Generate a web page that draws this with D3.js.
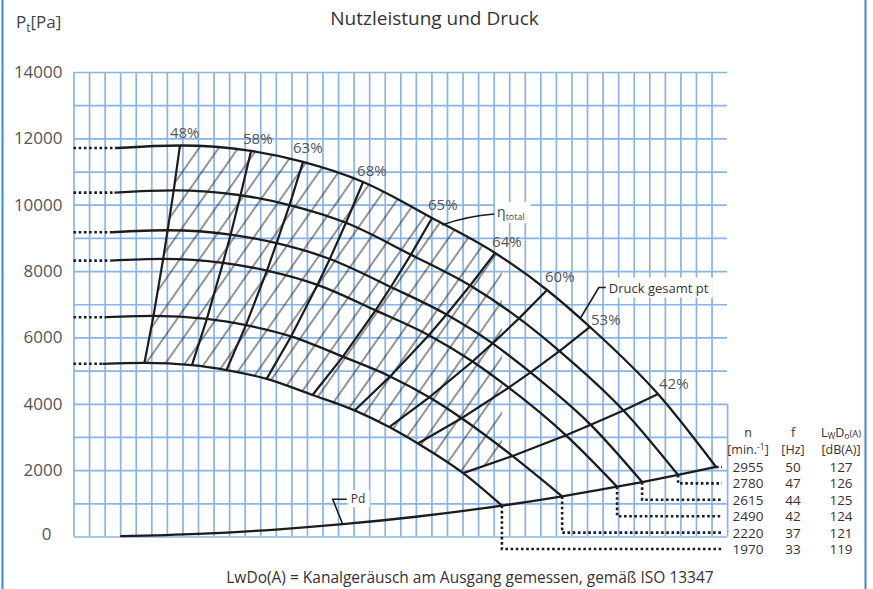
<!DOCTYPE html>
<html lang="de">
<head>
<meta charset="utf-8">
<title>Nutzleistung und Druck</title>
<script src="https://d3js.org/d3.v7.min.js"></script>
<style>
  body { margin: 0; background: #fff; }
  svg { display: block; font-family: "Open Sans", sans-serif; }
</style>
</head>
<body>
<svg id="chart" width="873" height="589"></svg>
<script>
// fan curves: [flow (grid units), total pressure Pa]
// points: start, 48%, 58%, 63%, 68%, 65%, 64%, 60%, 53%, 42%, end
var curve2955 = [[2.80,11710],[6.84,11785],[11.41,11620],[14.75,11290],[18.61,10685],[23.04,9600],[27.09,8545],[30.43,7430],[33.19,6315],[37.56,4295],[41.29,2095]];
var curve2780 = [[2.63,10365],[6.44,10430],[10.73,10285],[13.88,9990],[17.51,9455],[21.68,8495],[25.49,7565],[28.63,6575],[31.23,5590],[35.34,3800],[38.85,1855]];
var curve2615 = [[2.48,9170],[6.05,9230],[10.10,9100],[13.05,8840],[16.47,8365],[20.39,7520],[23.97,6690],[26.93,5820],[29.37,4945],[33.24,3365],[36.54,1640]];
var curve2490 = [[2.36,8315],[5.76,8365],[9.61,8250],[12.43,8015],[15.68,7585],[19.41,6815],[22.83,6065],[25.64,5275],[27.97,4485],[31.65,3050],[34.93,1500]];
var curve2220 = [[2.10,6610],[5.14,6650],[8.57,6560],[11.08,6370],[13.98,6030],[17.31,5420],[20.35,4825],[22.86,4195],[24.94,3565],[28.22,2425],[31.40,1210]];
var curve1970 = [[1.87,5205],[4.56,5235],[7.61,5165],[9.83,5015],[12.41,4750],[15.36,4265],[18.06,3800],[20.29,3300],[22.13,2805],[25.04,1910],[27.53,930]];

// dynamic pressure
var pdCurve = [[3,10],[8,80],[13,210],[17.3,370],[22,595],[27.53,930],[31.40,1210],[34.93,1500],[36.54,1640],[38.85,1855],[41.29,2095]];

var speeds = [2955, 2780, 2615, 2490, 2220, 1970];
var freqs = [50, 47, 44, 42, 37, 33];
var noise = [127, 126, 125, 124, 121, 119];
var effLabels = ["48%", "58%", "63%", "68%", "65%", "64%", "60%", "53%", "42%"];
var yTicks = [0, 2000, 4000, 6000, 8000, 10000, 12000, 14000];

var curves = [curve2955, curve2780, curve2615, curve2490, curve2220, curve1970];

var svg = d3.select("#chart");
var plotL = 73.5, plotR = 727.1, plotT = 72, plotB = 536.5;

var x = d3.scaleLinear().domain([0, 42]).range([plotL, plotR]);
var y = d3.scaleLinear().domain([0, 14000]).range([plotB, plotT]);

var ink = "#1c1c1c";
var gridBlue = "#88b4e7";

// frame
svg.append("line").attr("x1", 2.5).attr("x2", 2.5).attr("y1", 0).attr("y2", 589)
   .attr("stroke", "#3b87d8").attr("stroke-width", 2);
svg.append("line").attr("x1", 865.5).attr("x2", 865.5).attr("y1", 0).attr("y2", 589)
   .attr("stroke", "#3b87d8").attr("stroke-width", 2);

// grid, vertical
var gx = svg.append("g")
  .attr("transform", "translate(0," + plotB + ")")
  .call(d3.axisBottom(x).tickValues(d3.range(0, 43)).tickSize(-(plotB - plotT)).tickFormat(""));
gx.select(".domain").remove();
gx.selectAll("line").attr("stroke", gridBlue).attr("stroke-width", 1.7);
gx.selectAll(".tick").filter(function(d) { return d === 42; })
  .select("line").attr("y2", -(plotB - y(4000)));

// grid, horizontal
var gy = svg.append("g")
  .attr("transform", "translate(" + plotL + ",0)")
  .call(d3.axisLeft(y).tickValues(d3.range(0, 14001, 1000)).tickSize(-(plotR - plotL)).tickFormat(""));
gy.select(".domain").remove();
gy.selectAll("line").attr("stroke", gridBlue).attr("stroke-width", 1.7);

// y labels
var yl = svg.append("g")
  .attr("transform", "translate(" + plotL + ",0)")
  .call(d3.axisLeft(y).tickValues(yTicks).tickSize(0).tickPadding(11).tickFormat(d3.format("d")));
yl.select(".domain").remove();
yl.selectAll("text").attr("font-size", 17).attr("fill", "#555")
  .attr("font-family", "'Open Sans', sans-serif");
yl.selectAll(".tick").filter(function(d) { return d === 0; })
  .select("text").attr("x", -22).attr("dy", "0.2em");

// hatching
var defs = svg.append("defs");
defs.append("pattern").attr("id", "hatch")
  .attr("patternUnits", "userSpaceOnUse")
  .attr("width", 16).attr("height", 10)
  .attr("patternTransform", "rotate(35)")
  .append("line").attr("x1", 8).attr("x2", 8).attr("y1", -1).attr("y2", 11)
  .attr("stroke", "#2a2a2a").attr("stroke-width", 1);

var areaBelow = d3.area().x(function(d) { return x(d[0]); })
  .y0(y(-3000)).y1(function(d) { return y(d[1]); }).curve(d3.curveMonotoneX);
var areaAbove = d3.area().x(function(d) { return x(d[0]); })
  .y0(y(17000)).y1(function(d) { return y(d[1]); }).curve(d3.curveMonotoneX);

defs.append("clipPath").attr("id", "clipTop").append("path").attr("d", areaBelow(curve2955));
defs.append("clipPath").attr("id", "clipBottom").append("path").attr("d", areaAbove(curve1970));

var leftEdge = curves.map(function(c) { return c[1]; });
var rightEdge = curves.map(function(c) { return c[9]; });
var sidePoly = [[leftEdge[0][0], 17000]].concat(leftEdge)
  .concat([[leftEdge[5][0], -3000], [rightEdge[5][0], -3000]])
  .concat(rightEdge.slice().reverse())
  .concat([[rightEdge[0][0], 17000]]);
defs.append("clipPath").attr("id", "clipSide").append("polygon")
  .attr("points", sidePoly.map(function(d) { return x(d[0]) + "," + y(d[1]); }).join(" "));

svg.append("g").attr("clip-path", "url(#clipTop)")
  .append("g").attr("clip-path", "url(#clipBottom)")
  .append("g").attr("clip-path", "url(#clipSide)")
  .append("rect").attr("x", plotL).attr("y", plotT).attr("width", plotR - plotL).attr("height", plotB - plotT)
  .attr("fill", "url(#hatch)");

var lineGen = d3.line().x(function(d) { return x(d[0]); }).y(function(d) { return y(d[1]); })
  .curve(d3.curveMonotoneX);
var straight = d3.line().x(function(d) { return x(d[0]); }).y(function(d) { return y(d[1]); });

// dotted extensions to the left
svg.append("g").selectAll("path").data(curves).enter().append("path")
  .attr("d", function(c) { return straight([[0, c[0][1]], c[0]]); })
  .attr("fill", "none").attr("stroke", ink).attr("stroke-width", 2.6)
  .attr("stroke-dasharray", "2.6,2.6");

// dotted connectors to the table
var rowY = function(i) { return 467 + i * 16.4; };
svg.append("g").selectAll("path").data(curves).enter().append("path")
  .attr("d", function(c, i) {
    var e = c[c.length - 1];
    return "M" + x(e[0]) + "," + y(e[1]) + "V" + rowY(i) + "H722";
  })
  .attr("fill", "none").attr("stroke", ink).attr("stroke-width", 2.6)
  .attr("stroke-dasharray", "2.6,2.6");

// speed curves
svg.append("g").selectAll("path").data(curves).enter().append("path")
  .attr("d", lineGen)
  .attr("fill", "none").attr("stroke", ink).attr("stroke-width", 2.3);

// efficiency lines
var effLines = d3.range(1, 10).map(function(i) { return curves.map(function(c) { return c[i]; }); });
svg.append("g").selectAll("path").data(effLines).enter().append("path")
  .attr("d", straight)
  .attr("fill", "none").attr("stroke", ink).attr("stroke-width", 2.2);

// Pd curve
svg.append("path").attr("d", lineGen(pdCurve))
  .attr("fill", "none").attr("stroke", ink).attr("stroke-width", 2.3);

// efficiency labels
var effDx = [-10, -8, -10, -6, -4, -3, -2, 1, 1];
var effDy = [-12.5, -12, -14, -11, -13, -11, -13, -7, -10];
svg.append("g").selectAll("text").data(effLabels).enter().append("text")
  .attr("x", function(d, i) { return x(curve2955[i + 1][0]) + effDx[i]; })
  .attr("y", function(d, i) { return y(curve2955[i + 1][1]) + effDy[i] + 5; })
  .attr("font-size", 15).attr("fill", "#555")
  .text(function(d) { return d; });

// Pd label
var pdP = pdCurve[3];
var px0 = x(pdP[0]), py0 = y(pdP[1]);
svg.append("rect").attr("x", px0 + 5).attr("y", py0 - 34).attr("width", 22).attr("height", 17).attr("fill", "#fff");
svg.append("path").attr("d", "M" + px0 + "," + py0 + "L" + (px0 - 10) + "," + (py0 - 25) + "H" + (px0 + 4))
  .attr("fill", "none").attr("stroke", ink).attr("stroke-width", 1.6);
svg.append("text").attr("x", px0 + 8).attr("y", py0 - 21).attr("font-size", 12).attr("fill", "#333").text("Pd");

// Druck gesamt label
var dA = [32.6, 6600];
var dx0 = x(dA[0]), dy0 = y(dA[1]);
svg.append("rect").attr("x", dx0 + 24).attr("y", dy0 - 40).attr("width", 108).attr("height", 20).attr("fill", "#fff");
svg.append("path").attr("d", "M" + dx0 + "," + dy0 + "L" + (dx0 + 18) + "," + (dy0 - 30) + "H" + (dx0 + 25))
  .attr("fill", "none").attr("stroke", ink).attr("stroke-width", 1.6);
svg.append("text").attr("x", dx0 + 28).attr("y", dy0 - 25).attr("font-size", 13).attr("fill", "#333")
  .text("Druck gesamt pt");

// eta total label
var eA = curve2955[5];
var ex0 = x(eA[0]), ey0 = y(eA[1]);
svg.append("rect").attr("x", ex0 + 63).attr("y", ey0 - 16).attr("width", 36).attr("height", 21).attr("fill", "#fff");
svg.append("path").attr("d", "M" + (ex0 + 10) + "," + (ey0 + 7) + "Q" + (ex0 + 35) + "," + (ey0 - 2) + " " + (ex0 + 62) + "," + (ey0 - 4))
  .attr("fill", "none").attr("stroke", ink).attr("stroke-width", 1.6);
var et = svg.append("text").attr("x", ex0 + 65).attr("y", ey0 - 1).attr("font-size", 14).attr("fill", "#444");
et.append("tspan").text("η");
et.append("tspan").attr("font-size", 9).attr("dy", 3).text("total");

// title and axis name
svg.append("text").attr("x", 434.5).attr("y", 25).attr("text-anchor", "middle")
  .attr("font-size", 19).attr("fill", "#333").text("Nutzleistung und Druck");
var at = svg.append("text").attr("x", 16).attr("y", 28).attr("font-size", 17).attr("fill", "#444");
at.append("tspan").text("P");
at.append("tspan").attr("font-size", 12).attr("dy", 4).text("t");
at.append("tspan").attr("dy", -4).text("[Pa]");

// table
var colN = 748, colF = 793, colL = 841;
var hd = svg.append("g").attr("font-size", 12.5).attr("fill", "#333").attr("text-anchor", "middle");
hd.append("text").attr("x", colN).attr("y", 437).text("n");
hd.append("text").attr("x", colF).attr("y", 437).text("f");
var lh = hd.append("text").attr("x", colL).attr("y", 437);
lh.append("tspan").text("L");
lh.append("tspan").attr("font-size", 8.5).attr("dy", 2).text("W");
lh.append("tspan").attr("dy", -2).text("D");
lh.append("tspan").attr("font-size", 8.5).attr("dy", 2).text("o");
lh.append("tspan").attr("font-size", 9.5).attr("dy", -2).text("(A)");
var mh = hd.append("text").attr("x", colN).attr("y", 454);
mh.append("tspan").text("[min.");
mh.append("tspan").attr("font-size", 8.5).attr("dy", -4).text("-1");
mh.append("tspan").attr("dy", 4).text("]");
hd.append("text").attr("x", colF).attr("y", 454).text("[Hz]");
hd.append("text").attr("x", colL).attr("y", 454).text("[dB(A)]");

var rows = svg.append("g").attr("font-size", 13.5).attr("fill", "#333").attr("text-anchor", "middle");
rows.selectAll(".n").data(speeds).enter().append("text")
  .attr("x", colN).attr("y", function(d, i) { return rowY(i) + 5; }).text(function(d) { return d; });
rows.selectAll(".f").data(freqs).enter().append("text")
  .attr("x", colF).attr("y", function(d, i) { return rowY(i) + 5; }).text(function(d) { return d; });
rows.selectAll(".l").data(noise).enter().append("text")
  .attr("x", colL).attr("y", function(d, i) { return rowY(i) + 5; }).text(function(d) { return d; });

// caption
svg.append("text").attr("x", 470).attr("y", 583).attr("text-anchor", "middle")
  .attr("font-size", 15.5).attr("fill", "#333")
  .text("LwDo(A) = Kanalgeräusch am Ausgang gemessen, gemäß ISO 13347");
</script>
</body>
</html>
